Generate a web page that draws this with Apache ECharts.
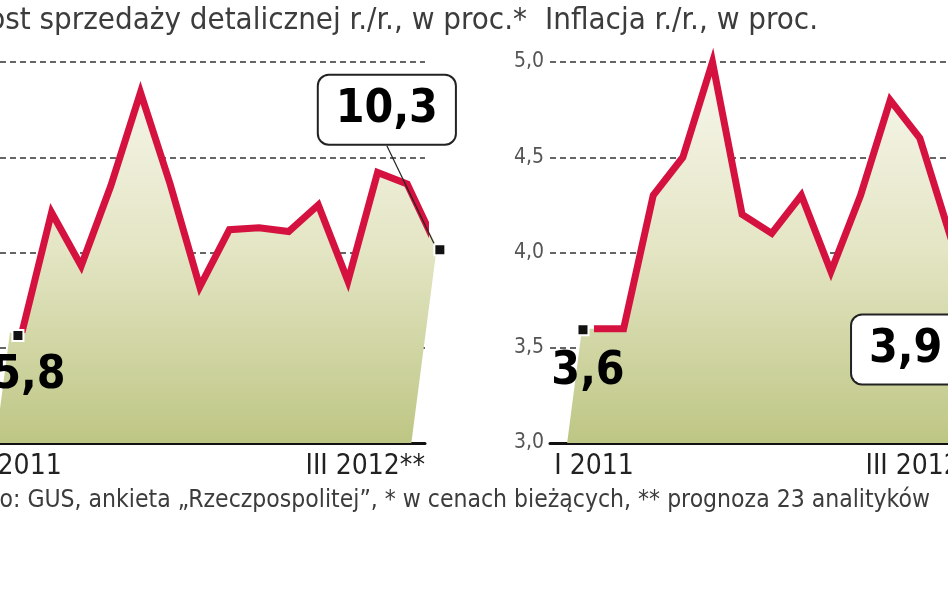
<!DOCTYPE html>
<html>
<head>
<meta charset="utf-8">
<script src="https://cdn.jsdelivr.net/npm/echarts@6/dist/echarts.min.js"></script>
<style>
  html, body { margin: 0; padding: 0; background: #fff; }
  #main { width: 948px; height: 593px; }
</style>
</head>
<body>
<div id="main"></div>
<script>
// months I 2011 .. III 2012
var months = ["I 2011", "II 2011", "III 2011", "IV 2011", "V 2011", "VI 2011", "VII 2011", "VIII 2011",
  "IX 2011", "X 2011", "XI 2011", "XII 2011", "I 2012", "II 2012", "III 2012"];

// retail sales growth y/y, % (last value = forecast)
var retailSales = [5.8, 12.1, 9.3, 13.5, 18.4, 13.6, 8.2, 11.2, 11.3, 11.1, 12.5, 8.5, 14.2, 13.6, 10.3];
// CPI inflation y/y, %
var inflation = [3.6, 3.6, 4.3, 4.5, 5.0, 4.2, 4.1, 4.3, 3.9, 4.3, 4.8, 4.6, 4.1, 4.3, 3.9];

var retailTicks = [0, 5, 10, 15, 20];
var inflationTicks = [3.0, 3.5, 4.0, 4.5, 5.0];

var FONT = "'Liberation Sans Narrow', 'DejaVu Sans Condensed', Roboto, sans-serif";
var RED = "#d5123f";
var SLANT = 0.13; // the fill leans to the left towards the bottom

var chart = echarts.init(document.getElementById("main"), null, { renderer: "canvas" });

function comma(v, d) {
  return v.toFixed(d).replace(".", ",");
}

// area under the line, drawn as one slanted polygon
function fillItem(values, yMin, yMax) {
  return function (params, api) {
    var pts = values.map(function (v, i) { return api.coord([i, v]); });
    var base = api.coord([0, yMin])[1];
    var top = api.coord([0, yMax])[1];
    var first = pts[0], last = pts[pts.length - 1];
    var poly = [[first[0] - 12, first[1]]].concat(pts, [
      [last[0] - SLANT * (base - last[1]), base],
      [first[0] - 12 - SLANT * (base - first[1]), base]
    ]);
    return {
      type: "polygon",
      shape: { points: poly },
      style: {
        fill: new echarts.graphic.LinearGradient(0, top, 0, base, [
          { offset: 0, color: "#f8f7ee" },
          { offset: 0.5, color: "#e3e5c3" },
          { offset: 1, color: "#bec684" }
        ], true)
      }
    };
  };
}

function pairs(values) {
  return values.map(function (v, i) { return [i, v]; });
}

var boxLabel = {
  show: true,
  fontFamily: FONT,
  fontWeight: "bold",
  fontSize: 46,
  lineHeight: 50,
  color: "#000",
  backgroundColor: "#fff",
  borderColor: "#222",
  borderWidth: 2,
  borderRadius: 10,
  padding: [10, 17, 8, 17]
};
var plainLabel = {
  show: true,
  fontFamily: FONT,
  fontWeight: "bold",
  fontSize: 46,
  color: "#000"
};

function endPoints(values, xi, firstOffset, labelShift) {
  var n = values.length - 1;
  return {
    type: "scatter",
    xAxisIndex: xi,
    yAxisIndex: xi,
    z: 5,
    clip: false,
    silent: true,
    symbol: "rect",
    symbolSize: 11,
    itemStyle: { color: "#111", borderColor: "#fff", borderWidth: 2, opacity: 1 },
    label: {
      formatter: function (p) { return comma(p.value[1], 1); }
    },
    labelLine: { lineStyle: { color: "#222", width: 1.2 } },
    labelLayout: function (p) {
      return labelShift[p.dataIndex];
    },
    data: [
      { value: [0, values[0]], symbolOffset: firstOffset, label: plainLabel },
      { value: [n, values[n]], symbolOffset: [3, 3], label: boxLabel, labelLine: { show: true } }
    ]
  };
}

function xAxisFor(gi, min, max) {
  return {
    type: "value",
    gridIndex: gi,
    min: min,
    max: max,
    axisLine: { onZero: false, lineStyle: { color: "#111", width: 3 } },
    axisTick: { show: false },
    splitLine: { show: false },
    axisLabel: {
      customValues: [0, max],
      alignMaxLabel: "right",
      formatter: function (v) {
        return v === 0 ? months[0] : months[months.length - 1] + "**";
      },
      fontFamily: FONT,
      fontSize: 28,
      color: "#222",
      margin: 10
    }
  };
}

function yAxisFor(gi, ticks, digits) {
  return {
    type: "value",
    gridIndex: gi,
    min: ticks[0],
    max: ticks[ticks.length - 1],
    interval: ticks[1] - ticks[0],
    axisLine: { show: false, onZero: false },
    axisTick: { show: false },
    splitLine: { lineStyle: { type: [6, 4], color: "#333", width: 1.5 } },
    axisLabel: {
      formatter: function (v) { return comma(v, digits); },
      fontFamily: FONT,
      fontSize: 21,
      color: "#555",
      margin: 6
    }
  };
}

var titleStyle = { fontFamily: FONT, fontSize: 31, fontWeight: "normal", color: "#3c3c3c" };

var option = {
  backgroundColor: "#fff",
  animation: false,
  title: [
    { text: "Wzrost sprzedaży detalicznej r./r., w proc.*", right: 421, top: 5, padding: 0, textStyle: titleStyle },
    { text: "Inflacja r./r., w proc.", left: 545, top: 5, padding: 0, textStyle: titleStyle },
    {
      text: "Źródło: GUS, ankieta „Rzeczpospolitej”, * w cenach bieżących, ** prognoza 23 analityków",
      right: 18, top: 488, padding: 0,
      textStyle: { fontFamily: FONT, fontSize: 24.5, fontWeight: "normal", color: "#3c3c3c" }
    }
  ],
  grid: [
    { left: 0, top: 62, width: 425, height: 381, outerBoundsMode: "none" },
    { left: 550, top: 62, width: 435, height: 381, outerBoundsMode: "none" }
  ],
  xAxis: [xAxisFor(0, -0.74, 13.6), xAxisFor(1, -1.485, 13.2)],
  yAxis: [yAxisFor(0, retailTicks, 0), yAxisFor(1, inflationTicks, 1)],
  series: [
    { type: "custom", xAxisIndex: 0, yAxisIndex: 0, z: 1, silent: true, clip: false,
      renderItem: fillItem(retailSales, 0, 20), data: [[0, 0]] },
    { type: "line", xAxisIndex: 0, yAxisIndex: 0, z: 3, clip: false, silent: true,
      symbol: "none", lineStyle: { color: RED, width: 7, join: "miter" }, data: pairs(retailSales) },
    endPoints(retailSales, 0, [-4, 3], [{ dx: 11, dy: 41 }, { dx: -53, dy: -140 }]),

    { type: "custom", xAxisIndex: 1, yAxisIndex: 1, z: 1, silent: true, clip: false,
      renderItem: fillItem(inflation, 3, 5), data: [[0, 3]] },
    { type: "line", xAxisIndex: 1, yAxisIndex: 1, z: 3, clip: false, silent: true,
      symbol: "none", lineStyle: { color: RED, width: 7, join: "miter" }, data: pairs(inflation) },
    endPoints(inflation, 1, [-11, 1], [{ dx: 5, dy: 42 }, { dx: -106, dy: 75 }])
  ]
};

chart.setOption(option);
</script>
</body>
</html>
